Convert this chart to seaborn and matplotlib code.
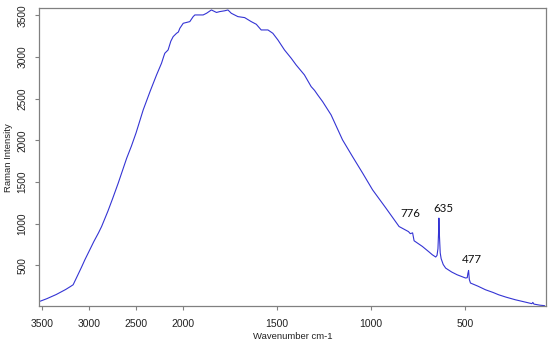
import numpy as np
import pandas as pd
import seaborn as sns
import matplotlib
matplotlib.use('Agg')
import matplotlib.pyplot as plt

# Espectro Raman (número de onda, intensidad)
wavenumber = [3520, 3450, 3400, 3350, 3300, 3250, 3200, 3170, 3120, 3080,
              3045, 3000, 2950, 2900, 2867, 2800, 2750, 2690, 2650, 2600,
              2550, 2500, 2424, 2350, 2282, 2229, 2205, 2194, 2159, 2130,
              2105, 2069, 2050, 2034, 1999, 1964, 1946, 1937, 1893, 1875,
              1849, 1822, 1805, 1778, 1761, 1743, 1708, 1672, 1637, 1610,
              1584, 1548, 1522, 1495, 1460, 1424, 1398, 1354, 1318, 1300,
              1283, 1257, 1212, 1151, 1098, 1044, 991, 920, 850, 800,
              790, 778, 770, 726, 690, 673, 655, 648, 643, 640,
              638, 635, 631, 626, 615, 602, 570, 541, 510, 496,
              487, 484, 480, 476, 470, 430, 390, 350, 320, 280,
              231, 180, 143, 138, 132, 100, 75]
intensity = [70, 100, 125, 150, 180, 210, 245, 267, 385, 480,
             567, 670, 785, 890, 966, 1150, 1300, 1487, 1620, 1786,
             1930, 2090, 2366, 2590, 2785, 2926, 3010, 3045, 3085, 3190,
             3245, 3285, 3300, 3345, 3405, 3425, 3485, 3505, 3505, 3525,
             3565, 3535, 3545, 3555, 3565, 3525, 3485, 3473, 3425, 3393,
             3325, 3325, 3285, 3205, 3085, 2985, 2905, 2786, 2645, 2600,
             2545, 2465, 2306, 2006, 1806, 1607, 1406, 1187, 966, 905,
             880, 890, 795, 727, 660, 627, 600, 620, 700, 880,
             1067, 850, 650, 580, 510, 467, 420, 387, 360, 348,
             352, 400, 439, 330, 288, 250, 207, 175, 147, 118,
             87, 60, 40, 55, 35, 22, 16]

x_ticks = [3500, 3000, 2500, 2000, 1500, 1000, 500]
y_ticks = [500, 1000, 1500, 2000, 2500, 3000, 3500]
peak_labels = ['776', '635', '477']
peak_x = [788, 615, 465]
peak_y = [1127, 1187, 575]

df = pd.DataFrame({'wavenumber': wavenumber, 'intensity': intensity})

sns.set_style('white')
plt.rcParams['font.family'] = ['Liberation Sans', 'DejaVu Sans']


# El eje x del original no es lineal: por encima de 2000 cm-1 va a la mitad de escala
def forward(w):
    w = np.asarray(w, dtype=float)
    return np.where(w > 2000, 2000 + (w - 2000) / 2, w)


def inverse(p):
    p = np.asarray(p, dtype=float)
    return np.where(p > 2000, 2000 + (p - 2000) * 2, p)


fig, ax = plt.subplots(figsize=(5.5, 3.45), dpi=100)
fig.subplots_adjust(left=0.0715, right=0.992, top=0.976, bottom=0.113)

sns.lineplot(data=df, x='wavenumber', y='intensity', sort=False, ax=ax,
             color='#3434d4', linewidth=0.8)

ax.set_xscale('function', functions=(forward, inverse))
ax.set_xlim(3530, 70)
ax.set_ylim(12, 3585)
ax.set_xticks(x_ticks)
ax.set_xticklabels([str(t) for t in x_ticks])
ax.set_yticks(y_ticks)
ax.set_yticklabels([str(t) for t in y_ticks], rotation=90, va='center')
ax.minorticks_off()

for s in ax.spines.values():
    s.set_color('#808080')
    s.set_linewidth(0.9)
ax.tick_params(axis='both', which='major', direction='out', length=3,
               width=0.8, color='#808080', labelcolor='#222222',
               bottom=True, left=True)
ax.tick_params(axis='x', pad=6.5, labelsize=7.5)
ax.tick_params(axis='y', pad=5.5, labelsize=7.3)

ax.set_xlabel('Wavenumber cm-1', fontsize=6.8, color='#222222', va='center')
ax.set_ylabel('Raman Intensity', fontsize=6.8, color='#222222', va='center')
ax.xaxis.set_label_coords(0.5, -0.104)
ax.yaxis.set_label_coords(-0.06, 0.5)

for lab, px, py in zip(peak_labels, peak_x, peak_y):
    ax.text(px, py, lab, ha='center', va='center', fontsize=8.3,
            family=['Lato', 'DejaVu Sans'], color='#111111')

plt.savefig('out.png', dpi=100)
